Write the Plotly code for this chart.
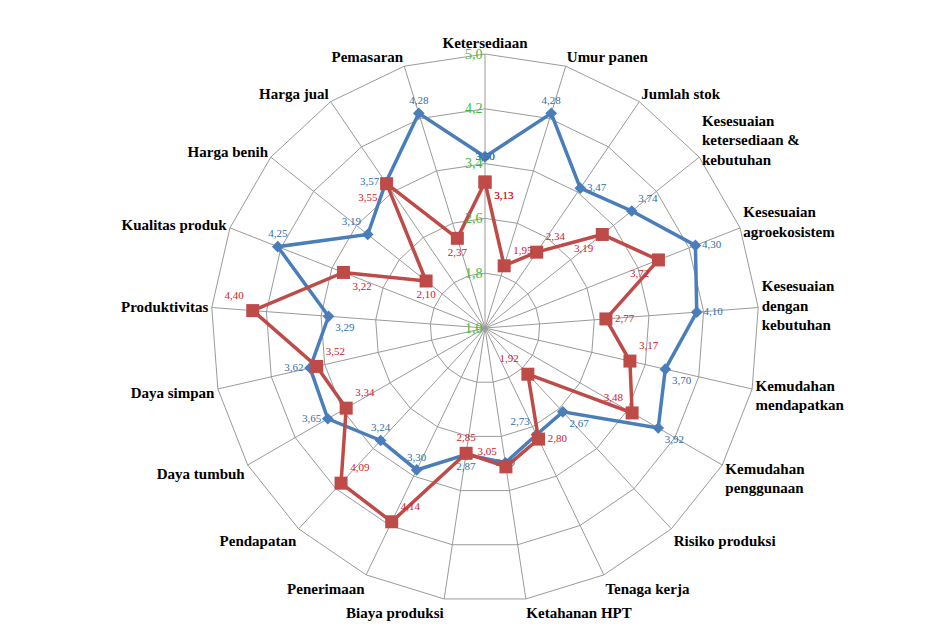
import plotly.graph_objects as go

categories = [
    "Ketersediaan", "Umur panen", "Jumlah stok",
    "Kesesuaian<br>ketersediaan &<br>kebutuhan",
    "Kesesuaian<br>agroekosistem",
    "Kesesuaian<br>dengan<br>kebutuhan",
    "Kemudahan<br>mendapatkan",
    "Kemudahan<br>penggunaan",
    "Risiko produksi", "Tenaga kerja", "Ketahanan HPT", "Biaya produksi",
    "Penerimaan", "Pendapatan", "Daya tumbuh", "Daya simpan",
    "Produktivitas", "Kualitas produk", "Harga benih", "Harga jual", "Pemasaran",
]

blue_values = [3.50, 4.28, 3.47, 3.74, 4.30, 4.10, 3.70, 3.92, 2.67, 2.73, 2.99,
               2.87, 3.30, 3.24, 3.65, 3.62, 3.29, 4.25, 3.19, 3.57, 4.28]
red_values = [3.13, 1.95, 2.34, 3.19, 3.72, 2.77, 3.17, 3.48, 1.92, 2.80, 3.05,
              2.85, 4.14, 4.09, 3.34, 3.52, 4.40, 3.22, 2.10, 3.55, 2.37]

tick_vals = [1.0, 1.8, 2.6, 3.4, 4.2, 5.0]
tick_text = ["1,0", "1,8", "2,6", "3,4", "4,2", "5,0"]

# label placement around each marker (Excel-like offsets)
blue_pos = ["middle center", "top center", "middle right", "top right", "middle right",
            "middle right", "bottom right", "bottom right", "bottom right", "top left",
            "middle center", "bottom center", "top center", "top center", "middle left",
            "middle left", "bottom right", "top center", "top left", "middle left",
            "top center"]
red_pos = ["bottom right", "top right", "top right", "bottom left", "bottom left",
           "middle right", "top right", "top left", "top left", "middle right",
           "top left", "top center", "top right", "top right", "top right",
           "top right", "top left", "bottom right", "bottom center", "bottom left",
           "bottom center"]


def fmt(v):
    return f"{v:.2f}".replace(".", ",")


def closed(lst):
    return lst + lst[:1]


BLUE = "#4A7EBB"
RED = "#BE4B48"

fig = go.Figure()
fig.add_trace(go.Scatterpolar(
    r=closed(blue_values), theta=closed(categories),
    mode="lines+markers+text",
    text=closed([fmt(v) for v in blue_values]),
    textposition=closed(blue_pos),
    textfont=dict(family="Liberation Serif", size=11, color="#2F6FA8"),
    line=dict(color=BLUE, width=3.5),
    marker=dict(symbol="diamond", size=9, color=BLUE),
    cliponaxis=False, showlegend=False,
))
fig.add_trace(go.Scatterpolar(
    r=closed(red_values), theta=closed(categories),
    mode="lines+markers+text",
    text=closed([fmt(v) for v in red_values]),
    textposition=closed(red_pos),
    textfont=dict(family="Liberation Serif", size=11, color="#D0202A"),
    line=dict(color=RED, width=3.5),
    marker=dict(symbol="square", size=13, color=RED),
    cliponaxis=False, showlegend=False,
))

fig.update_layout(
    width=928, height=626,
    margin=dict(l=203, r=177, t=46, b=32),
    paper_bgcolor="white",
    polar=dict(
        bgcolor="white",
        gridshape="linear",
        angularaxis=dict(
            rotation=90, direction="clockwise",
            showline=True, linecolor="#9a9a9a", linewidth=1,
            gridcolor="#9a9a9a", gridwidth=1,
            ticks="",
            tickfont=dict(family="Liberation Serif", size=15, color="black",
                          weight="bold"),
        ),
        radialaxis=dict(
            range=[1, 5], angle=90, tickangle=90,
            tickvals=tick_vals, ticktext=tick_text,
            showline=False, ticks="",
            gridcolor="#9a9a9a", gridwidth=1,
            tickfont=dict(family="Liberation Serif", size=14, color="#3DBB3D"),
            side="counterclockwise",
        ),
    ),
)

fig.write_html("out.html")
